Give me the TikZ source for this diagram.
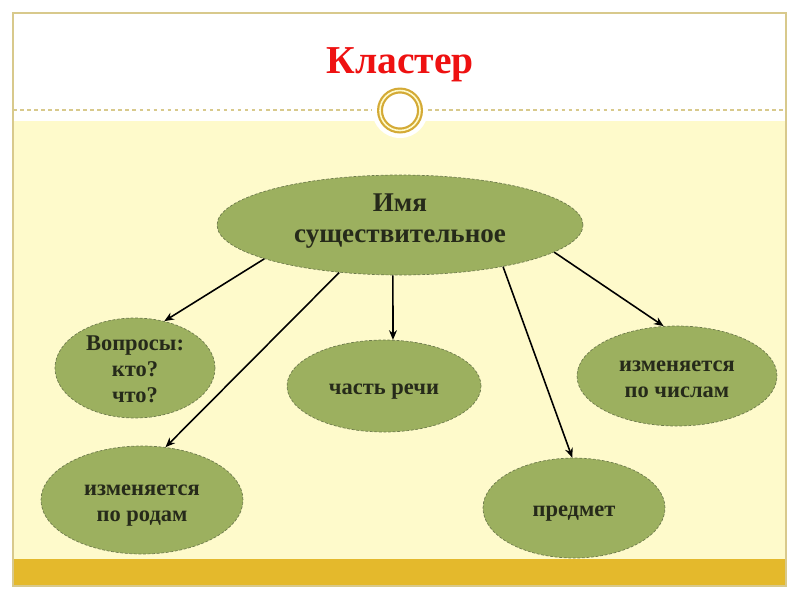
\documentclass[tikz,border=0pt]{standalone}
\usepackage{fontspec}
\setmainfont{Liberation Serif}
\usetikzlibrary{shapes.geometric, arrows.meta}
\definecolor{frameline}{HTML}{D8C98C}
\definecolor{paleyellow}{HTML}{FEFACB}
\definecolor{goldbar}{HTML}{E4B92C}
\definecolor{ringgold}{HTML}{D4AA36}
\definecolor{olive}{HTML}{9CB05F}
\definecolor{olivedash}{HTML}{6E7B4C}
\definecolor{titlered}{HTML}{EE1111}
\definecolor{inktext}{HTML}{262A1A}
\newcommand{\textlines}[1]{\begin{tabular}{@{}c@{}}#1\end{tabular}}

\begin{document}
\begin{tikzpicture}[x=0.02cm, y=-0.02cm, >={Stealth[length=5.5pt, width=4.5pt]},
		blob/.style={draw=olivedash, dash pattern=on 1.6pt off 1pt, fill=olive, ellipse, inner sep=0pt, align=center, text=inktext, font=\bfseries\fontsize{12.8}{14.8}\selectfont},
		leaf/.style={blob, text height=9.6pt, text depth=0pt},
		link/.style={->, line width=0.9pt}]
	\fill[white] (0,0) rectangle (800,600);
	\fill[paleyellow] (13,121) rectangle (786,559);
	\fill[white] (400,110) circle (28);
	\fill[goldbar] (13,559) rectangle (786,586);
	\draw[frameline, line width=1.2pt] (13,13) rectangle (786,586);
	\draw[frameline, line width=0.7pt, dash pattern=on 2pt off 2pt] (13,110) -- (372,110);
	\draw[frameline, line width=0.7pt, dash pattern=on 2pt off 2pt] (428,110) -- (786,110);
	\draw[ringgold, line width=3.4pt] (400,110.5) circle (20);
	\draw[paleyellow, line width=0.9pt] (400,110.5) circle (20);

	\node[anchor=base, text=titlered, font=\bfseries\fontsize{22.5}{27}\selectfont] (title) at (400,73) {Кластер};

	\node[blob, minimum width=7.32cm, minimum height=2.0cm, font=\bfseries\fontsize{15.4}{17.6}\selectfont, execute at end node={\vrule height 0pt depth 0.5em width 0pt}] (noun) at (400,225) {Имя\\существительное};
	\node[leaf, minimum width=3.2cm, minimum height=2.0cm] (ask) at (135,368) {\textlines{Вопросы:\\кто?\\что?}};
	\node[leaf, minimum width=3.88cm, minimum height=1.84cm] (part) at (384,386) {\textlines{часть речи}};
	\node[leaf, minimum width=4.0cm, minimum height=2.0cm] (number) at (677,376) {\textlines{изменяется\\по числам}};
	\node[leaf, minimum width=4.04cm, minimum height=2.16cm] (gender) at (142,500) {\textlines{изменяется\\по родам}};
	\node[leaf, minimum width=3.64cm, minimum height=2.0cm] (thing) at (574,508) {\textlines{предмет}};

	\draw[link] (noun.194) -- (ask.58);
	\draw[link] (noun.218) -- (gender.66);
	\draw[link] (noun.262) -- (part.79);
	\draw[link] (noun.338) -- (thing.92);
	\draw[link] (noun.350) -- (number.105);
\end{tikzpicture}
\end{document}
